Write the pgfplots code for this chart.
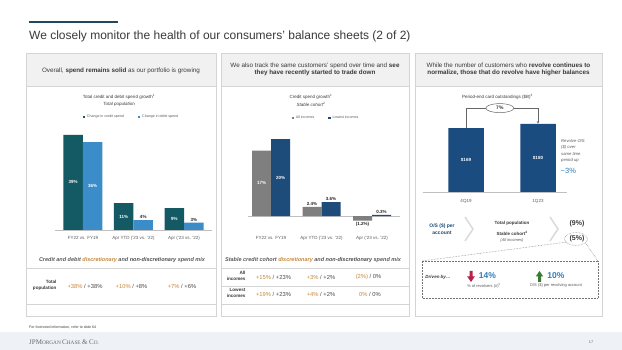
\documentclass[border=0pt]{standalone}
\usepackage{pgfplots}
\pgfplotsset{compat=1.18}
\usepackage{fontspec}
\setmainfont{Liberation Sans}
\newfontfamily\seriffont{Liberation Serif}
\usetikzlibrary{arrows.meta,shapes.geometric}
\newcommand\fs[2]{\fontsize{#1}{#2}\selectfont}
\definecolor{credit}{HTML}{145A64}
\definecolor{debit}{HTML}{3A8DC9}
\definecolor{allinc}{HTML}{7F7F7F}
\definecolor{lowinc}{HTML}{1D4B7A}
\definecolor{navy}{HTML}{1A4C80}
\definecolor{orng}{HTML}{C5883A}
\definecolor{titlebar}{HTML}{1F4A5C}
\definecolor{txt}{HTML}{3A3A3A}
\definecolor{dkt}{HTML}{4A4A4A}
\definecolor{pborder}{HTML}{D4D4D4}
\definecolor{phead}{HTML}{F1F1F1}
\definecolor{axisgray}{HTML}{BFBFBF}
\definecolor{ticktxt}{HTML}{595959}
\definecolor{accent}{HTML}{2F7DB5}
\definecolor{arrred}{HTML}{B8204A}
\definecolor{arrgreen}{HTML}{3B7A33}
\definecolor{band}{HTML}{EEF2F6}
\definecolor{chev}{HTML}{D9D9D9}
\pgfplotsset{
  panelaxis/.style={
    anchor=south west, scale only axis, clip=false,
    axis y line=none, axis x line*=bottom,
    x axis line style={draw=axisgray, line width=0.5pt, -},
    major tick length=0pt,
    xticklabel style={font=\fs{4.5}{5}, text=ticktxt},
    legend style={draw=none, fill=none, font=\fs{3.6}{4}, text=ticktxt,
      legend columns=2, /tikz/every even column/.append style={column sep=12pt},
      inner sep=0pt, anchor=center},
  },
  sqleg/.style={legend image code/.code={\fill[#1] (0pt,-1.1pt) rectangle (2.2pt,1.1pt);}},
}
\tikzset{
  inlab/.style={font=\bfseries\fs{4.5}{5}, text=white, inner sep=0pt},
  outlab/.style={font=\bfseries\fs{4.5}{5}, text=black!85, inner sep=1.2pt},
}
\begin{document}
\begin{tikzpicture}[x=1pt,y=-1pt]
\path[use as bounding box, fill=white] (0,0) rectangle (622,350);
% title
\fill[titlebar] (29,21) rectangle (118,23.2);
\node[anchor=base west, inner sep=0pt, text=txt, font=\fs{12}{12}] at (29,39.3) {We closely monitor the health of our consumers’ balance sheets (2 of 2)};
% panels
\foreach \a/\b in {26/216,221/409,415/602}{
  \fill[phead] (\a,53) rectangle (\b,86);
  \draw[pborder, line width=0.6pt] (\a,53) rectangle (\b,316);
  \draw[pborder, line width=0.6pt] (\a,86) -- (\b,86);
}
% header texts
\node[font=\fs{6.3}{7.2}, text=txt] at (121,71) {Overall, \textbf{spend remains solid} as our portfolio is growing};
\node[font=\fs{6.3}{7.2}, text=txt, align=center] at (315,69.5) {We also track the same customers’ spend over time and \textbf{see}\\\textbf{they have recently started to trade down}};
\node[font=\fs{6.3}{7.2}, text=txt, align=center] at (508.5,69.5) {While the number of customers who \textbf{revolve continues to}\\\textbf{normalize, those that do revolve have higher balances}};
% chart titles
\node[font=\fs{4.5}{5}, text=txt] at (119,97) {Total credit and debit spend growth\textsuperscript{1}};
\node[font=\itshape\fs{4.5}{5}, text=txt] at (119,104) {Total population};
\node[font=\fs{4.5}{5}, text=txt] at (311,97) {Credit spend growth\textsuperscript{1}};
\node[font=\itshape\fs{4.5}{5}, text=txt] at (311,104) {Stable cohort\textsuperscript{2}};
\node[font=\fs{4.5}{5}, text=txt] at (497.5,97) {Period-end card outstandings (\$B)\textsuperscript{3}};

% ---------- panel 1 chart
\begin{axis}[panelaxis,
  at={(55.2pt,-230pt)}, width=156.6pt, height=97.6pt,
  xmin=-0.55, xmax=2.55, ymin=0, ymax=40,
  ybar=0pt, bar width=19.5pt,
  xtick={0,1,2},
  xticklabels={FY22 vs. FY19, Apr YTD (’23 vs. ’22), Apr (’23 vs. ’22)},
  xticklabel style={yshift=-3pt},
  legend style={at={(0.487,1.158)}},
]
\addplot[fill=credit, draw=none, sqleg] coordinates {(0,39) (1,11) (2,9)};
\addplot[fill=debit, draw=none, sqleg] coordinates {(0,36) (1,4) (2,3)};
\legend{Change in credit spend, Change in debit spend}
\node[inlab, xshift=-9.75pt] at (axis cs:0,19.5) {39\%};
\node[inlab, xshift=-9.75pt] at (axis cs:1,5.5) {11\%};
\node[inlab, xshift=-9.75pt] at (axis cs:2,4.5) {9\%};
\node[inlab, xshift=9.75pt] at (axis cs:0,18) {36\%};
\node[outlab, above, xshift=9.75pt] at (axis cs:1,4) {4\%};
\node[outlab, above, xshift=9.75pt] at (axis cs:2,3) {3\%};
\end{axis}

% ---------- panel 2 chart
\begin{axis}[panelaxis,
  at={(248.3pt,-223.7pt)}, width=151.5pt, height=84.7pt,
  xmin=-0.45, xmax=2.55, ymin=-2, ymax=20,
  ybar=0pt, bar width=19pt,
  x axis line style={draw=none},
  xtick={0,1,2},
  xticklabels={FY22 vs. FY19, Apr YTD (’23 vs. ’22), Apr (’23 vs. ’22)},
  xticklabel style={yshift=-9.3pt},
  legend style={at={(0.513,1.248)}},
]
\draw[axisgray, line width=0.5pt] (axis cs:-0.45,0) -- (axis cs:2.55,0);
\addplot[fill=allinc, draw=none, sqleg] coordinates {(0,17) (1,2.4) (2,-1.2)};
\addplot[fill=lowinc, draw=none, sqleg] coordinates {(0,20) (1,3.6) (2,0.3)};
\legend{All incomes, Lowest incomes}
\node[inlab, xshift=-9.5pt] at (axis cs:0,8.5) {17\%};
\node[inlab, xshift=9.5pt] at (axis cs:0,10) {20\%};
\node[outlab, above, xshift=-9.5pt] at (axis cs:1,2.4) {2.4\%};
\node[outlab, above, xshift=9.5pt] at (axis cs:1,3.6) {3.6\%};
\node[outlab, below, xshift=-9.5pt] at (axis cs:2,-1.2) {(1.2\%)};
\node[outlab, above, xshift=9.5pt] at (axis cs:2,0.3) {0.3\%};
\end{axis}

% ---------- panel 3 chart
\begin{axis}[panelaxis,
  at={(422.8pt,-192pt)}, width=144pt, height=86.9pt,
  xmin=-0.6, xmax=1.4, ymin=0, ymax=230,
  ybar, bar width=35.5pt,
  xtick={0,1},
  xticklabels={4Q19, 1Q23},
  xticklabel style={yshift=-4pt},
]
\addplot[fill=navy, draw=none] coordinates {(0,169) (1,180)};
\node[inlab] at (axis cs:0,84.5) {\$169};
\node[inlab] at (axis cs:1,90) {\$180};
\draw[black!60, line width=0.5pt] (axis cs:0,169) -- (axis cs:0,222) -- (axis cs:1,222);
\draw[black!60, line width=0.5pt, -{Stealth[length=2.5pt,width=2.5pt]}] (axis cs:1,222) -- (axis cs:1,181);
\node[draw=black!60, line width=0.5pt, fill=white, ellipse, minimum width=28pt, minimum height=9pt, inner sep=0pt, font=\bfseries\fs{5}{5}, text=txt] at (axis cs:0.47,222) {7\%};
\end{axis}

% side note panel 3
\node[anchor=west, inner sep=0pt, font=\itshape\fs{4.2}{5}, text=ticktxt] at (561,141) {Revolve O/S};
\node[anchor=west, inner sep=0pt, font=\itshape\fs{4.2}{5}, text=ticktxt] at (561,147.5) {(\$) over};
\node[anchor=west, inner sep=0pt, font=\itshape\fs{4.2}{5}, text=ticktxt] at (561,154) {same time};
\node[anchor=west, inner sep=0pt, font=\itshape\fs{4.2}{5}, text=ticktxt] at (561,160.5) {period up};
\node[anchor=west, inner sep=0pt, font=\fs{7.5}{8}, text=accent] at (560.5,171) {\textasciitilde3\%};

% panel 3 lower part
\node[font=\bfseries\fs{5}{6.5}, text=lowinc, align=center] at (442,229) {O/S (\$) per\\account};
\draw[chev, line width=1.4pt] (465,217) -- (473,229) -- (465,241);
\draw[chev, line width=1.4pt] (550,217) -- (558,229) -- (550,241);
\node[font=\bfseries\fs{4.5}{5}, text=txt] at (512,223) {Total population};
\node[font=\bfseries\fs{4.5}{5}, text=txt] at (512,233) {Stable cohort\textsuperscript{4}};
\node[font=\itshape\fs{4}{5}, text=ticktxt] at (512,240.5) {(All incomes)};
\node[font=\bfseries\fs{7}{7}, text=txt] at (577,224) {(9\%)};
\node[font=\bfseries\fs{7}{7}, text=txt] at (577,238.5) {(5\%)};
\draw[black!55, densely dotted, line width=0.5pt] (576,239) ellipse [x radius=11.5pt, y radius=6.5pt];
\draw[black!55, densely dotted, line width=0.5pt] (567,242) -- (422,261);
\draw[black!55, densely dotted, line width=0.5pt] (585.5,243) -- (598,261);
\draw[black!55, densely dotted, line width=0.5pt] (422,261) rectangle (598,298);
\node[font=\bfseries\itshape\fs{4.5}{5}, text=txt] at (438,277) {Driven by\ldots};
\fill[arrred] (469.5,271) -- (472.5,271) -- (472.5,276.5) -- (474.8,276.5) -- (471,282) -- (467.2,276.5) -- (469.5,276.5) -- cycle;
\node[font=\bfseries\fs{8.5}{8.5}, text=accent] at (487.5,276) {14\%};
\node[font=\fs{4}{5}, text=ticktxt] at (484,285.5) {\% of revolvers (\#)\textsuperscript{5}};
\fill[arrgreen] (538,282) -- (541,282) -- (541,276.5) -- (543.3,276.5) -- (539.5,271) -- (535.7,276.5) -- (538,276.5) -- cycle;
\node[font=\bfseries\fs{8.5}{8.5}, text=accent] at (556,276) {10\%};
\node[font=\fs{4}{5}, text=ticktxt] at (556,285.5) {O/S (\$) per revolving account};

% panel 1 footer / table
\node[font=\bfseries\itshape\fs{5.5}{6}, text=ticktxt] at (122,260) {Credit and debit \textcolor{orng}{discretionary} and \textcolor{dkt}{non-discretionary} spend mix};
\draw[pborder, line width=0.5pt] (26,268) -- (216,268);
\draw[pborder, line width=0.5pt] (26,304) -- (216,304);
\node[anchor=east, align=right, font=\bfseries\fs{4.6}{6}, text=txt] at (60,285) {Total\\population};
\node[font=\fs{5.8}{6}] at (85,286) {\textcolor{orng}{+38\%} \textcolor{dkt}{/ +38\%}};
\node[font=\fs{5.8}{6}] at (131.5,286) {\textcolor{orng}{+10\%} \textcolor{dkt}{/ +8\%}};
\node[font=\fs{5.8}{6}] at (182,286) {\textcolor{orng}{+7\%} \textcolor{dkt}{/ +6\%}};

% panel 2 footer / table
\node[font=\bfseries\itshape\fs{5.5}{6}, text=ticktxt] at (313,260) {Stable credit cohort \textcolor{orng}{discretionary} and \textcolor{dkt}{non-discretionary} spend mix};
\draw[pborder, line width=0.5pt] (221,268) -- (409,268);
\draw[pborder, line width=0.5pt] (221,286) -- (409,286);
\draw[pborder, line width=0.5pt] (221,304) -- (409,304);
\node[anchor=east, align=right, font=\bfseries\fs{4.6}{6}, text=txt] at (249,276) {All\\incomes};
\node[anchor=east, align=right, font=\bfseries\fs{4.6}{6}, text=txt] at (249,292.5) {Lowest\\incomes};
\node[font=\fs{5.8}{6}] at (273.5,277) {\textcolor{orng}{+15\%} \textcolor{dkt}{/ +23\%}};
\node[font=\fs{5.8}{6}] at (321,277) {\textcolor{orng}{+3\%} \textcolor{dkt}{/ +2\%}};
\node[font=\fs{5.8}{6}] at (368.5,277) {\textcolor{orng}{(2\%)} \textcolor{dkt}{/ 0\%}};
\node[font=\fs{5.8}{6}] at (273.5,294) {\textcolor{orng}{+19\%} \textcolor{dkt}{/ +23\%}};
\node[font=\fs{5.8}{6}] at (321,294) {\textcolor{orng}{+4\%} \textcolor{dkt}{/ +2\%}};
\node[font=\fs{5.8}{6}] at (370,294) {\textcolor{orng}{0\%} \textcolor{dkt}{/ 0\%}};

% page footer
\node[anchor=west, inner sep=0pt, font=\fs{3.6}{4}, text=txt] at (29,327) {For footnoted information, refer to slide 64};
\fill[band] (0,332) rectangle (622,350);
\node[anchor=west, inner sep=0pt, text=black!60] at (29,342) {\seriffont\fs{7}{7}JPM\fs{5.3}{7}ORGAN \fs{7}{7}C\fs{5.3}{7}HASE \fs{7}{7}\& C\fs{5.3}{7}O.};
\node[inner sep=0pt, font=\fs{3.8}{4}, text=black!60] at (591,342) {17};
\end{tikzpicture}
\end{document}
